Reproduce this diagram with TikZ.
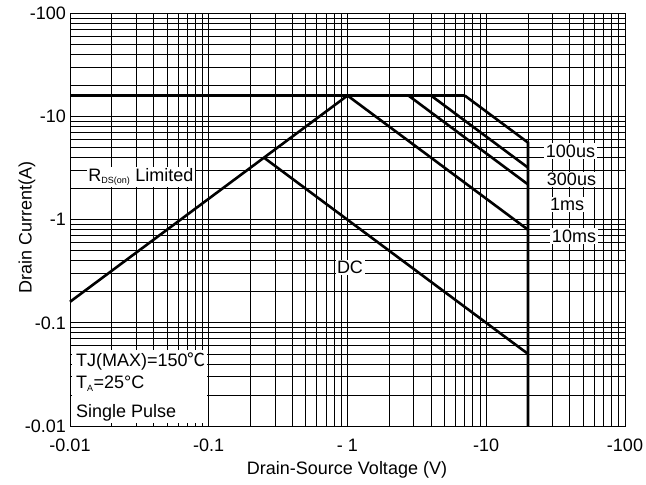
\documentclass[tikz,border=0pt]{standalone}
\usepackage{fontspec}
\setmainfont{Liberation Sans}
\newfontfamily\cjkfont{Noto Sans CJK SC}
\begin{document}
\begin{tikzpicture}[
  x=1pt,y=1pt,
  gridline/.style={line width=0.75pt, black},
  curve/.style={line width=2.6pt, black, line cap=butt, line join=miter},
  lbl/.style={font=\fontsize{18}{20}\selectfont, inner sep=0pt},
  wlbl/.style={lbl, fill=white, inner sep=1.5pt},
]
\useasboundingbox (0,0) rectangle (646,485);
\fill[white] (0,0) rectangle (646,485);
\begin{scope}[shift={(70pt,59pt)}, x=138.75pt, y=103.125pt]
  % grid
  \foreach \d in {0,1,2,3} {
    \foreach \m in {1,...,9} {
      \draw[gridline] ({\d+log10(\m)},0) -- ({\d+log10(\m)},4);
      \draw[gridline] (0,{\d+log10(\m)}) -- (4,{\d+log10(\m)});
    }
  }
  \draw[gridline] (0,0) rectangle (4,4);
  % key points (X = log10 V + 2, Y = log10 I + 2)
  \coordinate (rdsL) at (0,1.2041);
  \coordinate (peak) at (2,3.2041);
  \coordinate (limL) at (0,3.2041);
  \coordinate (s100) at (2.8451,3.2041);
  \coordinate (s300) at (2.60206,3.2041);
  \coordinate (s1ms) at (2.4393,3.2041);
  \coordinate (e100) at (3.30103,2.74819);
  \coordinate (e300) at (3.30103,2.50515);
  \coordinate (e1ms) at (3.30103,2.3424);
  \coordinate (e10ms) at (3.30103,1.90309);
  \coordinate (vbot) at (3.30103,0);
  \coordinate (dcS) at (1.39794,2.60206);
  \coordinate (dcE) at (3.30103,0.69897);
  % curves
  \draw[curve] (rdsL) -- (peak);
  \draw[curve] (limL) -- (s100);
  \draw[curve] (s100) -- (e100) -- (vbot);
  \draw[curve] (s300) -- (e300);
  \draw[curve] (s1ms) -- (e1ms);
  \draw[curve] (peak) -- (e10ms);
  \draw[curve] (dcS) -- (dcE);
\end{scope}
% labels in plot
\node[wlbl] (rds) at (141,308) {R\textsubscript{\fontsize{9}{10}\selectfont DS(on)} Limited};
\node[wlbl] (dc) at (350,217.5) {DC};
\node[wlbl] (l100) at (570.5,334) {100us};
\node[wlbl] (l300) at (571.5,305.5) {300us};
\node[wlbl] (l1ms) at (567,280.5) {1ms};
\node[wlbl] (l10ms) at (574,249) {10ms};
% condition box
\node[fill=white, minimum width=135pt, minimum height=73pt, inner sep=0pt, anchor=south west] (tjbox) at (72,62) {};
\node[lbl, anchor=base west] (tj) at (76,118) {TJ(MAX)=150{\cjkfont ℃}};
\node[lbl, anchor=base west] (ta) at (76,96) {T\textsubscript{\fontsize{9}{10}\selectfont A}=25°C};
\node[lbl, anchor=base west] (sp) at (76,67) {Single Pulse};
% y tick labels
\node[lbl, anchor=east] (y100) at (66,471.5) {-100};
\node[lbl, anchor=east] (y10) at (66,368.4) {-10};
\node[lbl, anchor=east] (y1) at (66,265.25) {-1};
\node[lbl, anchor=east] (y01) at (66,162.1) {-0.1};
\node[lbl, anchor=east] (y001) at (66,59) {-0.01};
% x tick labels
\node[lbl] (x001) at (70,40) {-0.01};
\node[lbl] (x01) at (208.75,40) {-0.1};
\node[lbl] (x1) at (347.5,40) {- 1};
\node[lbl] (x10) at (486.25,40) {-10};
\node[lbl] (x100) at (625,40) {-100};
% axis titles
\node[lbl] (xt) at (347,15) {Drain-Source Voltage (V)};
\node[lbl, rotate=90] (yt) at (27,257.5) {Drain Current(A)};
\end{tikzpicture}
\end{document}
